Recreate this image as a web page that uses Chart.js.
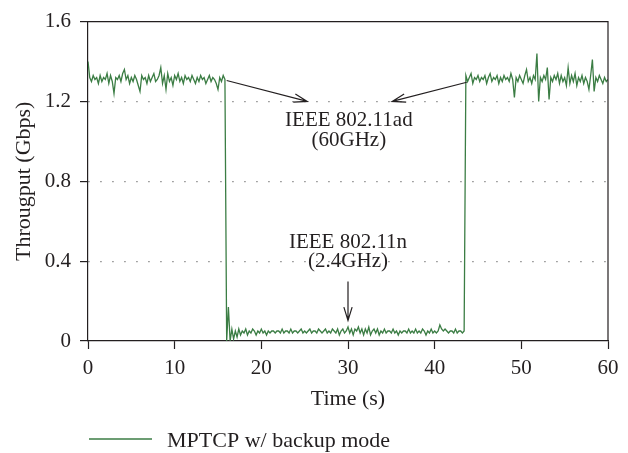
<!DOCTYPE html>
<html>
<head>
<meta charset="utf-8">
<script src="https://cdn.jsdelivr.net/npm/chart.js@4.4.1/dist/chart.umd.min.js"></script>
<style>
  html, body { margin: 0; padding: 0; background: #fff; }
  #wrap { width: 628px; height: 453px; position: relative; }
</style>
</head>
<body>
<div id="wrap"><canvas id="chart"></canvas></div>
<script>
// sampling interval of the trace (s)
const STEP = 0.2;

// 802.11ad phase, t = 0.0 .. 15.8 s
const adBefore = [
  1.40, 1.32, 1.30, 1.33, 1.31, 1.32, 1.29, 1.33, 1.30, 1.32,
  1.31, 1.34, 1.29, 1.33, 1.30, 1.24, 1.32, 1.31, 1.33, 1.30,
  1.34, 1.36, 1.31, 1.33, 1.29, 1.32, 1.30, 1.33, 1.31, 1.28,
  1.25, 1.33, 1.31, 1.32, 1.29, 1.33, 1.30, 1.32, 1.34, 1.30,
  1.31, 1.33, 1.37, 1.29, 1.33, 1.26, 1.34, 1.30, 1.32, 1.28,
  1.33, 1.31, 1.34, 1.30, 1.32, 1.29, 1.33, 1.31, 1.32, 1.30,
  1.33, 1.31, 1.29, 1.32, 1.30, 1.33, 1.31, 1.32, 1.29, 1.31,
  1.33, 1.30, 1.32, 1.31, 1.29, 1.26, 1.32, 1.30, 1.33, 1.31
];
// 802.11n backup phase, t = 16.0 .. 43.4 s
const nBackup = [
  0.00, 0.17, 0.00, 0.06, 0.01, 0.05, 0.02, 0.06, 0.03, 0.05,
  0.04, 0.06, 0.03, 0.05, 0.04, 0.06, 0.05, 0.03, 0.05, 0.04,
  0.06, 0.04, 0.05, 0.03, 0.05, 0.04, 0.05, 0.05, 0.04, 0.05,
  0.05, 0.04, 0.06, 0.04, 0.05, 0.05, 0.04, 0.06, 0.04, 0.05,
  0.05, 0.04, 0.05, 0.06, 0.04, 0.05, 0.04, 0.05, 0.06, 0.04,
  0.05, 0.05, 0.04, 0.06, 0.05, 0.04, 0.05, 0.06, 0.04, 0.05,
  0.04, 0.06, 0.05, 0.04, 0.06, 0.03, 0.05, 0.06, 0.04, 0.05,
  0.07, 0.04, 0.06, 0.03, 0.06, 0.05, 0.07, 0.04, 0.06, 0.03,
  0.06, 0.04, 0.07, 0.03, 0.05, 0.06, 0.04, 0.06, 0.03, 0.05,
  0.04, 0.06, 0.04, 0.05, 0.05, 0.04, 0.06, 0.04, 0.05, 0.03,
  0.05, 0.04, 0.05, 0.05, 0.04, 0.06, 0.04, 0.05, 0.04, 0.06,
  0.04, 0.05, 0.04, 0.06, 0.05, 0.03, 0.05, 0.04, 0.06, 0.04,
  0.05, 0.04, 0.05, 0.08, 0.06, 0.05, 0.06, 0.05, 0.04, 0.05,
  0.05, 0.04, 0.06, 0.04, 0.05, 0.05, 0.04, 0.05
];
// back on 802.11ad, t = 43.6 .. 60.0 s
const adAfter = [
  1.33, 1.30, 1.32, 1.34, 1.29, 1.32, 1.31, 1.33, 1.30, 1.32,
  1.31, 1.33, 1.29, 1.32, 1.34, 1.30, 1.32, 1.31, 1.33, 1.29,
  1.32, 1.30, 1.33, 1.31, 1.32, 1.30, 1.34, 1.31, 1.22, 1.32,
  1.30, 1.33, 1.31, 1.29, 1.33, 1.36, 1.30, 1.32, 1.29, 1.33,
  1.31, 1.44, 1.20, 1.32, 1.30, 1.33, 1.31, 1.37, 1.21, 1.32,
  1.30, 1.33, 1.31, 1.34, 1.29, 1.33, 1.30, 1.32, 1.28, 1.37,
  1.29, 1.33, 1.30, 1.34, 1.28, 1.32, 1.30, 1.33, 1.29, 1.32,
  1.30, 1.26, 1.33, 1.41, 1.25, 1.32, 1.30, 1.33, 1.31, 1.29,
  1.32, 1.30, 1.31
];

const xTicks = [0, 10, 20, 30, 40, 50, 60];
const yTicks = [0, 0.4, 0.8, 1.2, 1.6];
const seriesLabel = 'MPTCP w/ backup mode';

// annotation texts, anchored in data units (t, Gbps)
const notes = [
  { text: 'IEEE 802.11ad', x: 30.1, y: 1.106 },
  { text: '(60GHz)', x: 30.1, y: 1.004 },
  { text: 'IEEE 802.11n', x: 30.0, y: 0.495 },
  { text: '(2.4GHz)', x: 30.0, y: 0.400 }
];
// arrows: from -> to, in data units
const arrows = [
  { x0: 16.0, y0: 1.305, x1: 25.3, y1: 1.20 },
  { x0: 43.7, y0: 1.296, x1: 35.1, y1: 1.20 },
  { x0: 30.0, y0: 0.298, x1: 30.0, y1: 0.103 }
];

const LINE = '#3b7d44';
const INK = '#231f20';
const SERIF = "'Liberation Serif', 'DejaVu Serif', serif";

const trace = adBefore.concat(nBackup, adAfter)
  .map((v, i) => ({ x: Math.round(i * STEP * 10) / 10, y: v }));

Chart.defaults.font.family = SERIF;
Chart.defaults.font.size = 21;
Chart.defaults.color = INK;

const extras = {
  id: 'extras',
  afterDatasetsDraw(chart) {
    const { ctx, chartArea: a, scales: { x, y } } = chart;
    ctx.save();
    // frame top + right
    ctx.strokeStyle = INK;
    ctx.lineWidth = 1.2;
    ctx.beginPath();
    ctx.moveTo(a.left, a.top);
    ctx.lineTo(a.right, a.top);
    ctx.lineTo(a.right, a.bottom);
    ctx.stroke();

    // arrows
    arrows.forEach((ar) => {
      const px0 = x.getPixelForValue(ar.x0), py0 = y.getPixelForValue(ar.y0);
      const px1 = x.getPixelForValue(ar.x1), py1 = y.getPixelForValue(ar.y1);
      const ang = Math.atan2(py1 - py0, px1 - px0);
      const len = 14, spread = 0.3;
      ctx.beginPath();
      ctx.moveTo(px0, py0);
      ctx.lineTo(px1, py1);
      ctx.moveTo(px1 - len * Math.cos(ang - spread), py1 - len * Math.sin(ang - spread));
      ctx.lineTo(px1, py1);
      ctx.lineTo(px1 - len * Math.cos(ang + spread), py1 - len * Math.sin(ang + spread));
      ctx.stroke();
    });

    // annotation texts
    ctx.fillStyle = INK;
    ctx.font = '21px ' + SERIF;
    ctx.textAlign = 'center';
    ctx.textBaseline = 'middle';
    notes.forEach((n) => {
      ctx.fillText(n.text, x.getPixelForValue(n.x), y.getPixelForValue(n.y));
    });

    // legend
    ctx.strokeStyle = LINE;
    ctx.lineWidth = 1.3;
    ctx.beginPath();
    ctx.moveTo(89, 439);
    ctx.lineTo(152, 439);
    ctx.stroke();
    ctx.font = '22px ' + SERIF;
    ctx.textAlign = 'left';
    ctx.fillText(seriesLabel, 167, 441);
    ctx.restore();
  }
};

new Chart(document.getElementById('chart'), {
  type: 'line',
  data: {
    datasets: [{
      label: seriesLabel,
      data: trace,
      borderColor: LINE,
      borderWidth: 1.3,
      pointRadius: 0,
      tension: 0,
      fill: false
    }]
  },
  options: {
    responsive: true,
    maintainAspectRatio: false,
    animation: false,
    layout: { padding: { top: 14, right: 20, left: 0, bottom: 40 } },
    plugins: { legend: { display: false }, tooltip: { enabled: false } },
    scales: {
      x: {
        type: 'linear',
        min: 0,
        max: 60,
        afterBuildTicks: (s) => { s.ticks = xTicks.map((v) => ({ value: v })); },
        afterFit: (s) => { s.height = 72; },
        ticks: { padding: 7, color: INK },
        grid: { drawOnChartArea: false, tickLength: 8, tickColor: INK, tickWidth: 1.2 },
        border: { color: INK, width: 1.2 },
        title: { display: true, text: 'Time (s)', color: INK, font: { size: 22 }, padding: { top: 0, bottom: 1 } }
      },
      y: {
        min: 0,
        max: 1.6,
        afterBuildTicks: (s) => { s.ticks = yTicks.map((v) => ({ value: v })); },
        afterFit: (s) => { s.width = 88; },
        ticks: {
          padding: 9,
          color: INK,
          callback: (v) => (v === 0 ? '0' : Number(v).toFixed(1))
        },
        grid: {
          color: (c) => (c.tick && (c.tick.value === 0 || c.tick.value === 1.6) ? 'rgba(0,0,0,0)' : '#8a8a8a'),
          lineWidth: 1.2,
          tickBorderDash: [],
          tickLength: 8,
          tickColor: INK,
          tickWidth: 1.2
        },
        border: { color: INK, width: 1.2, dash: [1.5, 10.5] },
        title: { display: true, text: 'Througput (Gbps)', color: INK, font: { size: 22 }, padding: 11 }
      }
    }
  },
  plugins: [extras]
});
</script>
</body>
</html>
